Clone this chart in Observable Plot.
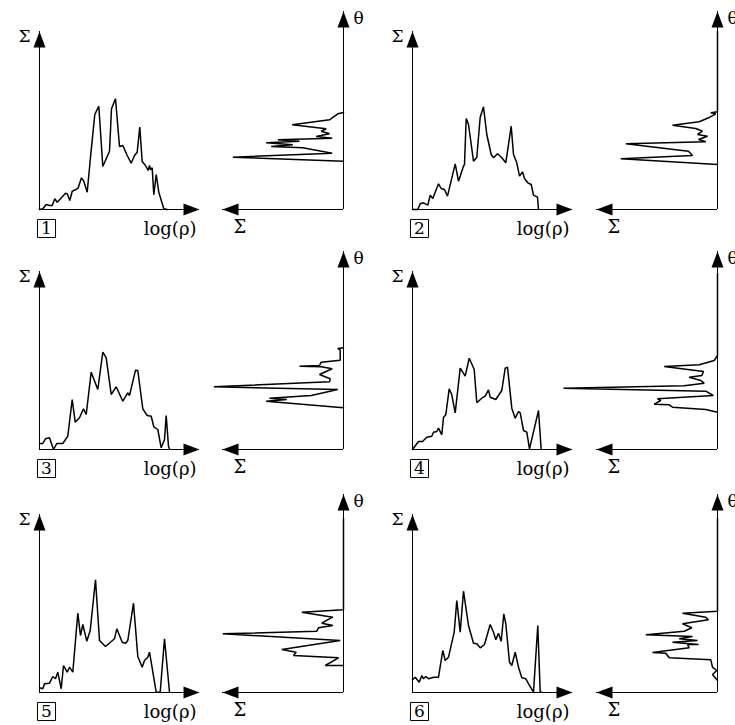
<!DOCTYPE html>
<html><head><meta charset="utf-8">
<script src="https://cdn.jsdelivr.net/npm/d3@7"></script>
<script src="https://cdn.jsdelivr.net/npm/@observablehq/plot@0.6"></script>
<style>
body{margin:0;background:#fff;}
#chart{position:relative;width:735px;height:725px;overflow:hidden;background:#fff;}
#chart svg{position:absolute;}
</style></head><body><div id="chart"></div>
<script>
// ---- data: histogram Σ vs log(ρ) (pairs [logρ, Σ]) ----
const hist1 = [[0,0],[3.3,0.7],[6.7,5],[10,4],[12.7,4],[15.3,10.7],[17.7,7.3],[21,10.7],[26,16.3],[27.7,15.7],[30.3,9],[32.7,18.3],[36,19.7],[38.7,21.7],[42,31.7],[44.3,28.3],[47.7,17.3],[51,52.3],[55.3,95],[59.3,103.3],[63.3,43],[70,58.3],[72,100.7],[76,110.7],[80,63],[83.3,64],[87.7,54],[91.7,46.3],[95,54],[97.7,57.3],[100.3,82.3],[102.7,48],[106,44],[108.7,39],[110,44],[111,39.7],[112.7,41.7],[114.3,14.7],[116.7,35],[119.3,17.3],[124.3,0.7],[127.7,0]];
const hist2 = [[0,0],[5.3,0],[7.7,5.7],[11,6.7],[15.3,4.3],[17.7,14.3],[20.3,11],[26,25.7],[28.7,21],[32,20],[35,13.3],[42.7,45.7],[46,28.3],[51,43.3],[52,45],[53.7,91],[56,85],[61,48.3],[64.3,52.3],[67.7,92.3],[71,102.7],[74.3,75],[78.7,55],[81,51.7],[85,55.7],[89.3,51.7],[93.3,46.7],[98.7,83.3],[101,55],[104.3,46.7],[107,33.3],[110,37.7],[112,31],[115.3,26.7],[118.7,25],[121,14.3],[125,12.3],[126,0]];
const hist3 = [[0,6],[3.3,6],[6,10.7],[10,11.7],[14,0],[17.3,6],[23.3,6],[28.3,13.3],[32.7,50],[35.7,27.3],[40,31.7],[44,40.7],[46.7,35],[51.7,77.3],[58.3,60],[63.3,97.3],[66.7,91.7],[71.7,55],[76.7,62.7],[83.3,48.3],[88.3,56.7],[90,54],[96,79.3],[98.3,79],[103.3,40.7],[107.7,34],[111.7,33.3],[114.3,22.7],[118.3,20],[121.7,1.7],[125,10],[126.7,34],[129,3.3],[130,0.7]];
const hist4 = [[0,0],[6,8],[10,8],[14.3,12.3],[19.3,13.3],[21,17.3],[24.3,18],[26,21.3],[29.3,14.7],[31,32.3],[33.3,34.7],[36.7,60.7],[39.3,54.7],[42.7,36.7],[47.7,81.3],[52.7,73.3],[56.7,91.3],[61.7,80],[64.3,46.7],[69.3,51.3],[72.7,53.3],[76,59.7],[77.7,52.3],[83.3,50],[89.3,59],[92.7,81.3],[95,82.3],[99.3,41.3],[102.7,31.3],[106,38],[107.7,36.7],[111,19],[114.3,17.3],[117,0.7],[126,39],[128.7,0]];
const hist5 = [[0,4.7],[3.3,3.7],[5,8.7],[10,9.3],[13.3,16],[16,13.7],[18.3,20.3],[21.7,3.7],[24,27],[27.7,20.3],[30,25.3],[33.3,20.3],[38.3,79.3],[41,57],[43.3,68],[47.3,51.3],[50.7,62],[56,112.7],[60,52],[66,46],[75,53.7],[77.3,63.7],[82.7,50.3],[86,49.3],[88.3,52],[94,89.3],[98.3,36],[102.7,25.3],[105,32],[108.3,35.3],[110,40.3],[111.7,30.3],[116.7,0.3],[120.7,0.3],[125,53.7],[130,0.3]];
const hist6 = [[0,12.7],[2.7,15.3],[6.7,10.3],[9.3,17],[11,13.7],[13.3,16],[16,13.7],[19.3,14.7],[22,15.3],[26,15.3],[30.3,42],[32.7,32],[36,35.3],[41.7,60.3],[44.3,92],[47.7,60.3],[51,101.3],[56,67],[61,49.3],[64.3,48.7],[67.7,44.7],[72,48],[77.7,68],[81,60.3],[83.3,52.7],[86,59.3],[88.7,51.3],[91.3,78.7],[93.3,68.7],[97,30.3],[99.3,27],[102.7,40.3],[106,25.3],[109.3,14.7],[113.3,13.7],[117,7],[121,0.3],[125.3,67],[127.7,0.3],[129.3,0.3]];

// ---- data: profile Σ vs θ (pairs [Σ, θ]) ----
const prof1 = [[0,48.3],[110.7,52.3],[11.3,56.3],[40.7,61.7],[72.3,63],[50.7,64.7],[77.3,66.7],[44,68.3],[65.7,69.7],[11.3,71.3],[27.3,73],[14,75.7],[22.3,78.3],[17.3,80.7],[51.3,84.7],[14,89.7],[5.7,95.7],[0,97]];
const prof2 = [[0,45],[96.7,50.7],[25,54],[29,58.3],[91.7,65.7],[11.7,67.7],[19,70],[10,73.3],[20,75],[15,78.3],[21.7,81],[45,84.3],[18.3,87.7],[7.7,92.3],[1.7,95.7],[6.7,96.7],[0,97.7],[0,178]];
const prof3 = [[0,41.7],[77.3,48.3],[56.7,50],[74,51.3],[32.3,54],[5.7,60],[129.7,62.7],[14,67.7],[13.3,70.7],[24,75],[11.3,80.7],[22.3,82.7],[44,83.3],[24,84],[22.3,87.3],[3.3,89.3],[3.3,99.3],[5.7,101],[0,101.7]];
const prof4 = [[0,37.3],[11.7,40],[45,42.3],[48.3,44.7],[63.3,45.3],[56.7,49],[60,50.7],[4.3,54],[11.7,58.3],[154,61.3],[33.3,63.7],[13.3,66.3],[16.7,69],[28.3,72.3],[15.7,74],[14,78],[53.3,83],[18.3,84.7],[3.3,89],[0,94],[0,176]];
const prof5 = [[0,27],[18.3,27],[5,34.7],[50,37],[47.3,40.3],[61.7,43],[3.3,52],[120.7,58.7],[26.7,61.3],[25,64.7],[10.7,67],[21.7,69.3],[16,72.7],[10.7,75.3],[41.7,80.3],[0,82.7],[0,174]];
const prof6 = [[0,12],[5,18],[0.7,22],[5,25.3],[6.7,32.7],[48.3,34.7],[51.7,39.3],[65,40],[28.3,44.7],[30,48],[19,48],[45,50.3],[20,52],[38.3,53.7],[25,56],[71.7,57.7],[33.3,61.3],[25.7,64.7],[35,68.7],[9,72.7],[11.7,75.3],[35,79.3],[0,81.3],[0,174]];

// ---- labels ----
const panelNumbers = ["1","2","3","4","5","6"];
const histXLabel = "log(ρ)";
const histYLabel = "Σ";
const profXLabel = "Σ";
const profYLabel = "θ";

const hists = [hist1,hist2,hist3,hist4,hist5,hist6];
const profs = [prof1,prof2,prof3,prof4,prof5,prof6];

// axis extents (data units)
const LOG_MAX = 160, SIG_MAX = 178, PROF_MAX = 121, THETA_MAX = 198;
// layout
const colX = [39, 412], colXr = [343, 717], rowY = [209, 449, 692];

const arrowUp = {draw(c){c.moveTo(0,0);c.lineTo(6,16);c.lineTo(-6,16);c.closePath();}};
const arrowRight = {draw(c){c.moveTo(0,0);c.lineTo(-16,-6);c.lineTo(-16,6);c.closePath();}};
const arrowLeft = {draw(c){c.moveTo(0,0);c.lineTo(16,-6);c.lineTo(16,6);c.closePath();}};

const FONT = "'DejaVu Serif', 'Liberation Serif', serif";
const style = {background:"transparent", overflow:"visible", fontFamily: FONT, color:"#000"};
const chart = document.getElementById("chart");
const px = d => d[0], py = d => d[1];

function leftPlot(data, num, ax, ay) {
  const mL = 45, mR = 20, mT = 22, mB = 40;
  const svg = Plot.plot({
    width: mL + LOG_MAX + mR, height: mT + SIG_MAX + mB,
    marginLeft: mL, marginRight: mR, marginTop: mT, marginBottom: mB,
    x: {domain: [0, LOG_MAX], axis: null},
    y: {domain: [0, SIG_MAX], axis: null},
    style,
    marks: [
      Plot.ruleY([0], {stroke: "#000", strokeWidth: 1}),
      Plot.ruleX([0], {stroke: "#000", strokeWidth: 1}),
      Plot.dot([[LOG_MAX, 0]], {x: px, y: py, symbol: arrowRight, r: 8, fill: "#000"}),
      Plot.dot([[0, SIG_MAX]], {x: px, y: py, symbol: arrowUp, r: 8, fill: "#000"}),
      Plot.line(data, {x: px, y: py, stroke: "#000", strokeWidth: 1.5, strokeLinejoin: "miter"}),
      Plot.text([{x: 0, y: SIG_MAX, t: histYLabel}], {x: "x", y: "y", text: "t", dx: -9, dy: 5, textAnchor: "end", fontSize: 17}),
      Plot.text([{x: LOG_MAX, y: 0, t: histXLabel}], {x: "x", y: "y", text: "t", dx: -3, dy: 20, textAnchor: "end", fontSize: 18}),
      Plot.dot([[0, 0]], {x: px, y: py, symbol: "square", r: 10.2, stroke: "#000", strokeWidth: 1, fill: "none", dx: 7, dy: 19}),
      Plot.text([{x: 0, y: 0, t: num}], {x: "x", y: "y", text: "t", dx: 7, dy: 19, fontSize: 17})
    ]
  });
  svg.style.left = (ax - mL) + "px";
  svg.style.top = (ay - SIG_MAX - mT) + "px";
  chart.appendChild(svg);
}

function rightPlot(data, ax, ay) {
  const mL = 60, mR = 40, mT = 12, mB = 40;
  const svg = Plot.plot({
    width: mL + PROF_MAX + mR, height: mT + THETA_MAX + mB,
    marginLeft: mL, marginRight: mR, marginTop: mT, marginBottom: mB,
    x: {domain: [0, PROF_MAX], reverse: true, axis: null},
    y: {domain: [0, THETA_MAX], axis: null},
    style,
    marks: [
      Plot.ruleY([0], {stroke: "#000", strokeWidth: 1}),
      Plot.ruleX([0], {stroke: "#000", strokeWidth: 1}),
      Plot.dot([[PROF_MAX, 0]], {x: px, y: py, symbol: arrowLeft, r: 8, fill: "#000"}),
      Plot.dot([[0, THETA_MAX]], {x: px, y: py, symbol: arrowUp, r: 8, fill: "#000"}),
      Plot.line(data, {x: px, y: py, stroke: "#000", strokeWidth: 1.5, strokeLinejoin: "miter"}),
      Plot.text([{x: 0, y: THETA_MAX, t: profYLabel}], {x: "x", y: "y", text: "t", dx: 10, dy: 7, textAnchor: "start", fontSize: 17}),
      Plot.text([{x: PROF_MAX, y: 0, t: profXLabel}], {x: "x", y: "y", text: "t", dx: 11, dy: 18, textAnchor: "start", fontSize: 18})
    ]
  });
  svg.style.left = (ax - PROF_MAX - mL) + "px";
  svg.style.top = (ay - THETA_MAX - mT) + "px";
  chart.appendChild(svg);
}

for (let i = 0; i < 6; i++) {
  const col = i % 2, row = Math.floor(i / 2);
  leftPlot(hists[i], panelNumbers[i], colX[col], rowY[row]);
  rightPlot(profs[i], colXr[col], rowY[row]);
}
</script></body></html>
